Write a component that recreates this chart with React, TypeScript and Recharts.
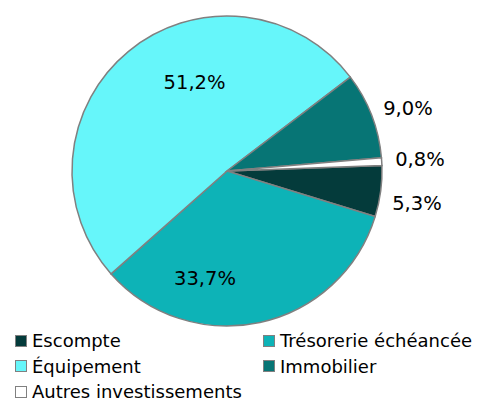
import React from "react";
import { PieChart, Pie, Cell, Legend } from "recharts";

const categories = ["Escompte", "Trésorerie échéancée", "Équipement", "Immobilier", "Autres investissements"];
const shares = [5.3, 33.7, 51.2, 9.0, 0.8];
const colors = ["#043b3b", "#0db3b7", "#66f6fa", "#077575", "#ffffff"];
// label placement: angle offset from slice mid-angle (deg) and radius factor
const labelAngleOffset = [-2.1, -23.8, -19.4, -1.9, -0.1];
const labelRadiusFactor = [1.243, 0.71, 0.61, 1.236, 1.247];

const data = categories.map((name, i) => ({ name, value: shares[i] }));

const FONT = "'DejaVu Sans', Verdana, sans-serif";
const RAD = Math.PI / 180;

const renderLabel = (props: any) => {
  const { cx, cy, midAngle, outerRadius, index, value } = props;
  const a = (midAngle + labelAngleOffset[index]) * RAD;
  const r = outerRadius * labelRadiusFactor[index];
  const x = cx + r * Math.cos(a);
  const y = cy - r * Math.sin(a);
  return (
    <text
      x={x}
      y={y}
      textAnchor="middle"
      dominantBaseline="central"
      fill="#000"
      fontFamily={FONT}
      fontSize={19.5}
    >
      {value.toFixed(1).replace(".", ",") + "%"}
    </text>
  );
};

const renderLegend = () => (
  <div
    style={{
      display: "grid",
      gridTemplateColumns: "248px 227px",
      rowGap: 4,
      fontFamily: FONT,
      fontSize: 18,
      color: "#000",
      lineHeight: "21.5px",
    }}
  >
    {categories.map((name, i) => (
      <div key={name} style={{ display: "flex", alignItems: "center", whiteSpace: "nowrap" }}>
        <span
          style={{
            display: "inline-block",
            width: 10,
            height: 10,
            background: colors[i],
            border: "1px solid #808080",
            marginLeft: 7,
            marginRight: 5,
          }}
        />
        <span>{name}</span>
      </div>
    ))}
  </div>
);

export default function App() {
  return (
    <PieChart width={475} height={395}>
      <Pie
        data={data}
        dataKey="value"
        nameKey="name"
        cx={214}
        cy={158}
        outerRadius={155}
        startAngle={2}
        endAngle={-358}
        stroke="#808080"
        strokeWidth={1.5}
        label={renderLabel}
        labelLine={false}
        isAnimationActive={false}
      >
        {data.map((d, i) => (
          <Cell key={d.name} fill={colors[i]} />
        ))}
      </Pie>
      <Legend
        content={renderLegend}
        wrapperStyle={{ position: "absolute", left: 0, top: 322, width: 475 }}
      />
    </PieChart>
  );
}
